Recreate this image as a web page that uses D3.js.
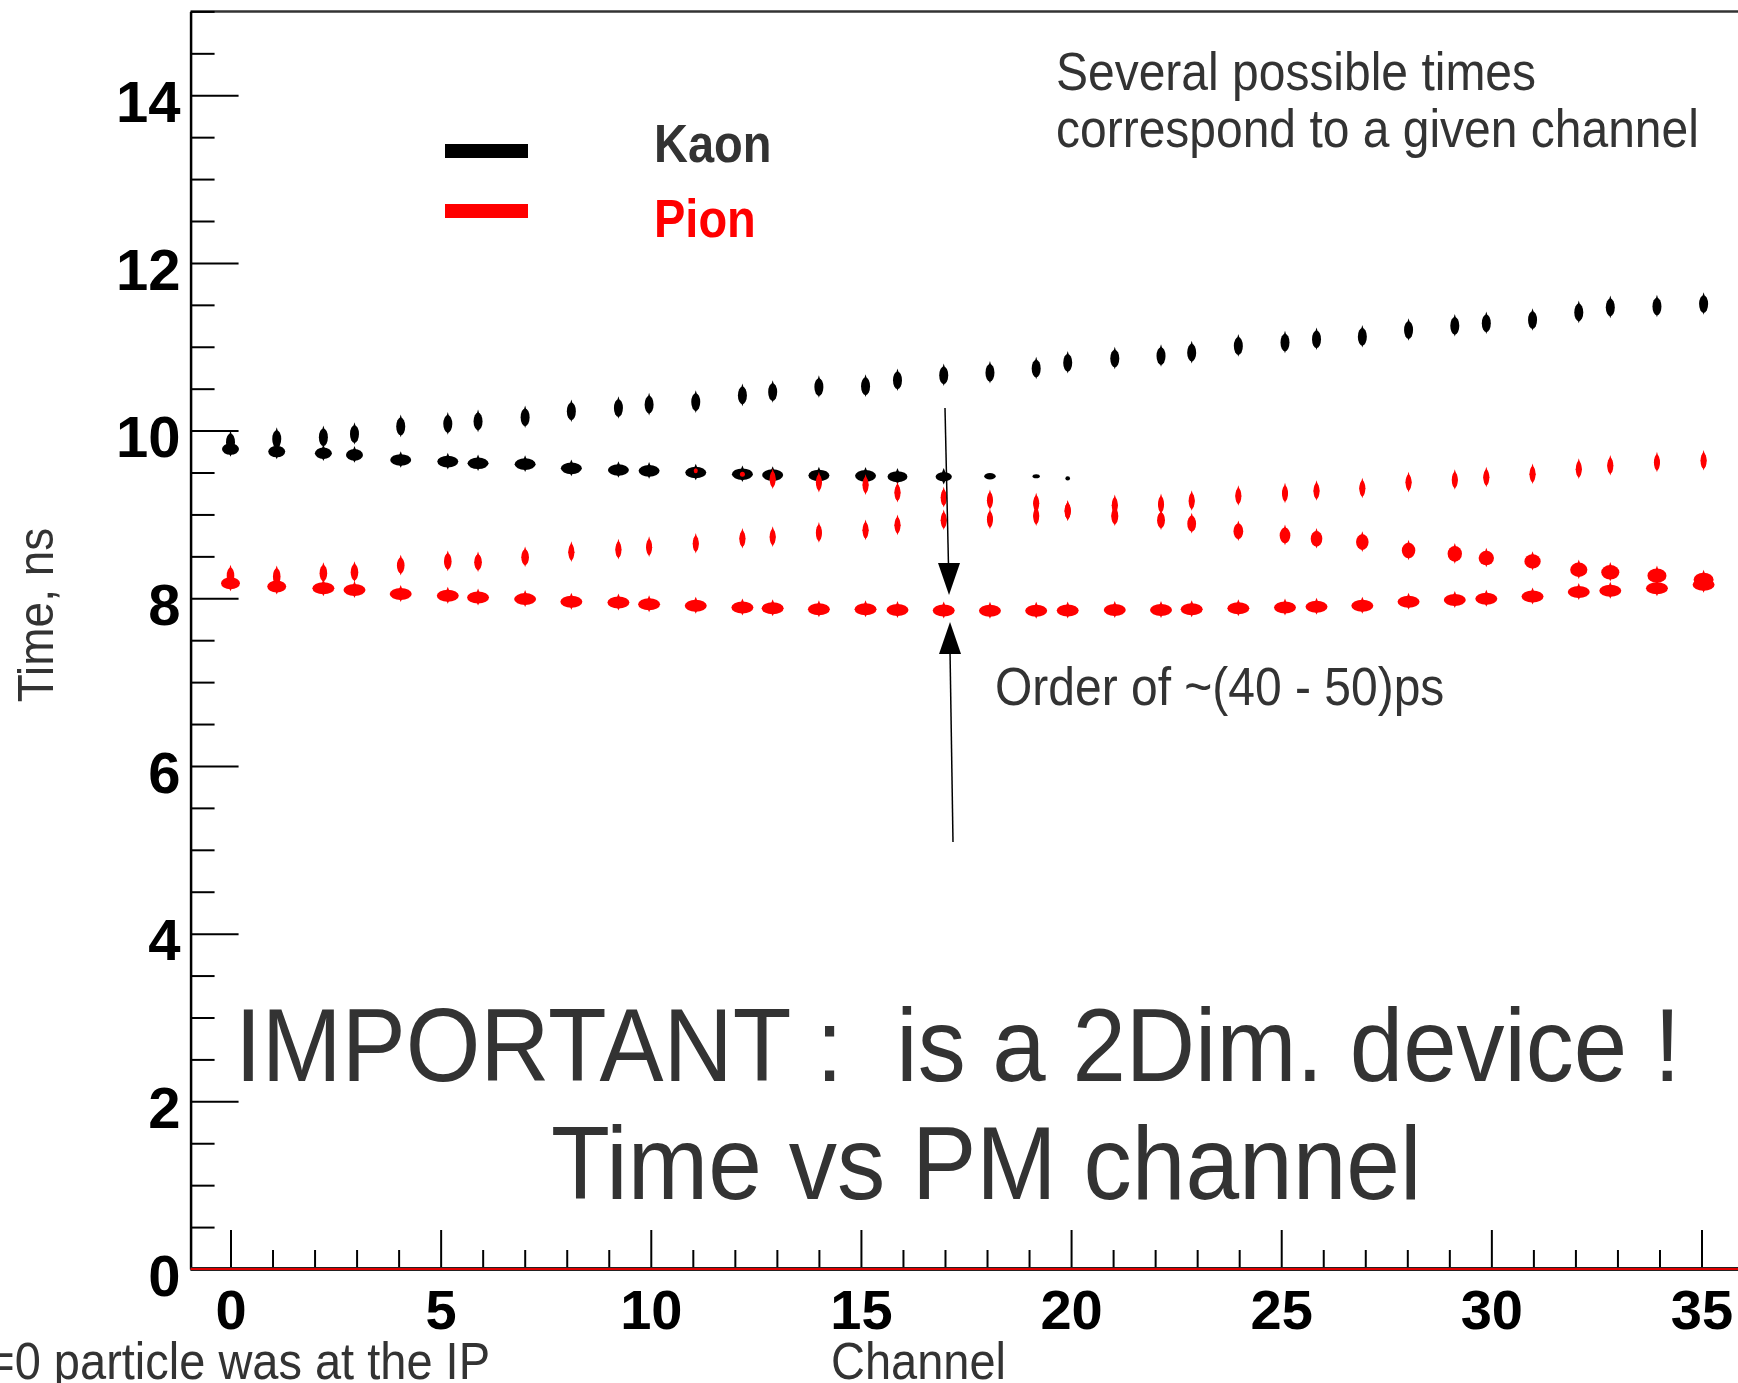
<!DOCTYPE html>
<html><head><meta charset="utf-8">
<script src="https://cdn.jsdelivr.net/npm/d3@7"></script>
<style>html,body{margin:0;padding:0;background:#fff;overflow:hidden;} svg{display:block;}</style>
</head><body>
<script>
// ---------------- DATA ----------------
const channels = [0,1,2,3,4,5,6,7,8,9,10,11,12,13,14,15,16,17,18,19,20,21,22,23,24,25,26,27,28,29,30,31,32,33,34,35];
// horizontal bin centre (in channel units) at which each channel's blob is drawn
const binCenters = [0,1.10,2.21,2.95,4.05,5.17,5.89,7.01,8.11,9.23,9.96,11.07,12.18,12.90,14.00,15.11,15.87,16.97,18.07,19.17,19.92,21.04,22.14,22.87,23.98,25.09,25.84,26.93,28.03,29.13,29.88,30.98,32.08,32.83,33.94,35.05];

// Kaon, rising branch (channels 0..35), ns
const kaonUpper = [9.86,9.90,9.92,9.96,10.05,10.08,10.11,10.16,10.23,10.27,10.31,10.34,10.42,10.46,10.52,10.53,10.60,10.66,10.69,10.74,10.81,10.86,10.89,10.93,11.01,11.05,11.09,11.12,11.20,11.25,11.28,11.32,11.41,11.47,11.48,11.51];
// Kaon, flat branch (channels 0..20), ns, with relative entries
const kaonLower = [9.78,9.75,9.73,9.71,9.65,9.63,9.61,9.60,9.55,9.53,9.52,9.50,9.48,9.47,9.465,9.46,9.45,9.45,9.455,9.455,9.43];
const kaonLowerEntries = [1,1,1,1,1,1,1,1,1,1,1,1,1,1,1,1,0.9,0.6,0.3,0.12,0.05];

// Pion, lowest branch (channels 0..35)
const pionMain = [8.18,8.14,8.12,8.10,8.05,8.03,8.01,7.99,7.96,7.95,7.93,7.91,7.89,7.88,7.87,7.87,7.86,7.855,7.85,7.85,7.855,7.86,7.86,7.87,7.88,7.89,7.90,7.91,7.96,7.98,7.995,8.02,8.075,8.09,8.12,8.16];
// Pion, rising branch (channels 0..35)
const pionRising = [8.27,8.26,8.30,8.31,8.39,8.44,8.43,8.49,8.55,8.58,8.61,8.65,8.71,8.73,8.78,8.81,8.87,8.93,8.94,8.98,9.04,9.11,9.12,9.16,9.22,9.25,9.28,9.31,9.38,9.41,9.44,9.48,9.54,9.58,9.62,9.64];
// Pion, descending branch (channels 11..35)
const pionFallingStart = 11;
const pionFalling = [9.52,9.48,9.42,9.38,9.35,9.26,9.20,9.17,9.13,9.04,8.98,8.93,8.89,8.80,8.75,8.71,8.67,8.57,8.53,8.48,8.44,8.34,8.31,8.27,8.22];

const yMajorTicks = [0,2,4,6,8,10,12,14];
const xMajorTicks = [0,5,10,15,20,25,30,35];
const legendLabels = ["Kaon","Pion"];

// ---------------- LAYOUT ----------------
const W = 1738, H = 1383;
const FONT = "'Liberation Sans', Arial, Helvetica, sans-serif";
const svg = d3.select("body").append("svg").attr("width", W).attr("height", H);

const x = d3.scaleLinear().domain([0, 35]).range([230.5, 1701.5]);
const y = d3.scaleLinear().domain([0, 15]).range([1269, 11.4]);
const xLeft = x(-0.95), xRight = x(36);

// frame (top line)
svg.append("line").attr("x1", xLeft).attr("x2", xRight).attr("y1", y(15)).attr("y2", y(15))
  .attr("stroke", "#333").attr("stroke-width", 2.5);

// ---- Y axis ----
const yMinorTicks = d3.range(0, 15.01, 0.5).filter(v => !yMajorTicks.includes(v));
const yMinor = svg.append("g").attr("transform", `translate(${xLeft},0)`)
  .call(d3.axisLeft(y).tickValues(yMinorTicks).tickSizeInner(-24).tickSizeOuter(0).tickFormat(""));
yMinor.select(".domain").remove();
const yAx = svg.append("g").attr("transform", `translate(${xLeft},0)`)
  .call(d3.axisLeft(y).tickValues(yMajorTicks).tickSizeInner(-48).tickSizeOuter(0).tickPadding(10).tickFormat(d3.format("d")));
yAx.select(".domain").attr("stroke", "#000").attr("stroke-width", 2.5);
svg.selectAll("g .tick line").attr("stroke", "#000").attr("stroke-width", 2);
yAx.selectAll("text").attr("font-family", FONT).attr("font-weight", "bold").attr("font-size", 58)
  .attr("fill", "#000").attr("dy", "0.45em");

// ---- X axis ----
const xMinorTicks = channels.filter(c => !xMajorTicks.includes(c));
const xMinor = svg.append("g").attr("transform", `translate(0,${y(0)})`)
  .call(d3.axisBottom(x).tickValues(xMinorTicks).tickSizeInner(-19).tickSizeOuter(0).tickFormat(""));
xMinor.select(".domain").remove();
const xAx = svg.append("g").attr("transform", `translate(0,${y(0)})`)
  .call(d3.axisBottom(x).tickValues(xMajorTicks).tickSizeInner(-39).tickSizeOuter(0).tickPadding(20).tickFormat(d3.format("d")));
xAx.select(".domain").remove();
svg.selectAll("g .tick line").attr("stroke", "#000").attr("stroke-width", 2);
xAx.selectAll("text").attr("font-family", FONT).attr("font-weight", "bold").attr("font-size", 56).attr("fill", "#000");
// axis baseline (black with red histogram baseline on top)
svg.append("line").attr("x1", xLeft).attr("x2", xRight).attr("y1", y(0)).attr("y2", y(0))
  .attr("stroke", "#222").attr("stroke-width", 4);
svg.append("line").attr("x1", xLeft).attr("x2", xRight).attr("y1", y(0)).attr("y2", y(0))
  .attr("stroke", "#e00000").attr("stroke-width", 2);

// ---- blobs ----
const marks = svg.append("g");
const sizeScale = d3.scaleSqrt().domain([0, 1]).range([0, 1]);
function drawBranch(times, startIdx, color, rxFn, ryFn, entries) {
  const data = times.map((t, i) => ({ c: startIdx + i, t, w: entries ? entries[i] : 1 }));
  const g = marks.append("g");
  g.selectAll("ellipse").data(data).join("ellipse")
    .attr("cx", d => x(binCenters[d.c]))
    .attr("cy", d => y(d.t))
    .attr("rx", d => rxFn(d.c) * sizeScale(d.w))
    .attr("ry", d => ryFn(d.c) * Math.max(0.35, sizeScale(d.w)))
    .attr("fill", color);
  // small pointed caps above/below (contour look)
  g.selectAll("path").data(data.filter(d => d.w > 0.5 && ryFn(d.c) > 4)).join("path")
    .attr("d", d => {
      const cx = x(binCenters[d.c]), cy = y(d.t), ry = ryFn(d.c), rx = rxFn(d.c);
      const hw = Math.min(rx, 3.4);
      return `M${cx - hw},${cy} L${cx},${cy - ry - 3} L${cx + hw},${cy} L${cx},${cy + ry + 2} Z`;
    })
    .attr("fill", color);
}
const KAON = "#000000", PION = "#ff0000";
drawBranch(kaonUpper, 0, KAON, c => 4.5, c => 8.8);
drawBranch(kaonLower, 0, KAON, c => c < 4 ? 8.5 : 10.5, c => 5.8, kaonLowerEntries);
const fallRx = d3.scaleLinear().domain([11, 13, 20, 35]).range([2, 3, 3, 10]).clamp(true);
drawBranch(pionRising, 0, PION, c => c < 8 ? 3.8 : 3, c => c < 4 ? 8 : 7.8);
drawBranch(pionFalling, pionFallingStart, PION, c => fallRx(c), c => c < 13 ? 2.5 : (c < 30 ? 7.8 : 7.2));
drawBranch(pionMain, 0, PION, c => c < 2 ? 9.5 : 11, c => 6);

// ---- legend ----
const legColors = [KAON, PION];
const legTextColors = ["#333333", PION];
const legBarY = [151, 211];
const legTextY = [162, 237];
legendLabels.forEach((lab, i) => {
  svg.append("rect").attr("x", 445).attr("y", legBarY[i] - 7).attr("width", 83).attr("height", 14).attr("fill", legColors[i]);
  svg.append("text").attr("transform", `translate(654,${legTextY[i]}) scale(1,1.13)`)
    .attr("font-family", FONT).attr("font-weight", "bold").attr("font-size", 47)
    .attr("fill", legTextColors[i]).text(lab);
});

// ---- annotation texts ----
function txt(xp, yp, s, size, opts = {}) {
  const t = svg.append("text")
    .attr("transform", `translate(${xp},${yp}) ${opts.rot ? `rotate(${opts.rot})` : ""} scale(1,${opts.sy || 1.1})`)
    .attr("font-family", FONT).attr("font-size", size)
    .attr("fill", opts.fill || "#333333")
    .attr("text-anchor", opts.anchor || "start")
    .style("white-space", "pre")
    .text(s);
  if (opts.bold) t.attr("font-weight", "bold");
  return t;
}
txt(1056, 90, "Several possible times", 48);
txt(1056, 147, "correspond to a given channel", 48);
txt(995, 705, "Order of ~(40 - 50)ps", 48);
txt(235, 1081, "IMPORTANT :  is a 2Dim. device !", 96, { sy: 1.08 });
txt(551, 1199, "Time vs PM channel", 96.5, { sy: 1.08 });
txt(831, 1379, "Channel", 47);
txt(490, 1379, "t=0 particle was at the IP", 47, { anchor: "end" });
txt(53, 615, "Time, ns", 46, { rot: -90, anchor: "middle", sy: 1.1 });

// ---- arrows ----
svg.append("line").attr("x1", 945).attr("y1", 408).attr("x2", 948.5).attr("y2", 566)
  .attr("stroke", "#000").attr("stroke-width", 1.5);
svg.append("path").attr("d", "M938,563 L960,563 L949,595 Z").attr("fill", "#000");
svg.append("line").attr("x1", 950).attr("y1", 650).attr("x2", 953).attr("y2", 842)
  .attr("stroke", "#000").attr("stroke-width", 1.5);
svg.append("path").attr("d", "M939,654 L961,654 L950,622 Z").attr("fill", "#000");
</script>
</body></html>
